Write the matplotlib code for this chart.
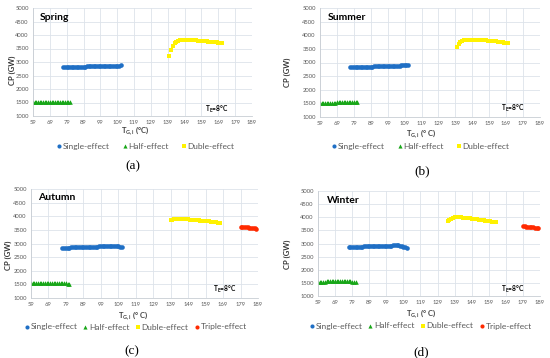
import matplotlib
matplotlib.use("Agg")
import matplotlib.pyplot as plt

# sampled generator temperatures (deg C)
half_x = [59, 60, 61, 62, 63, 64, 65, 66, 67, 68, 69, 70, 71, 72, 73, 74, 75, 76, 77, 78, 79, 80, 81]
single_x = [77, 78, 79, 80, 81, 82, 83, 84, 85, 86, 87, 88, 89, 90, 91, 92, 93, 94,
            95, 96, 97, 98, 99, 100, 101, 102, 103, 104, 105, 106, 107, 108, 109, 110, 111]
triple_x = [179, 180, 181, 182, 183, 184, 185, 186, 187, 188]

spring_double_x = [140, 141, 142, 143, 144, 145, 146, 147, 148, 149, 150, 151, 152, 153, 154, 155,
                   156, 157, 158, 159, 160, 161, 162, 163, 164, 165, 166, 167, 168, 169, 170, 171]
summer_double_x = [140, 141, 142, 143, 144, 145, 146, 147, 148, 149, 150, 151, 152, 153, 154, 155,
                   156, 157, 158, 159, 160, 161, 162, 163, 164, 165, 166, 167, 168, 169, 170]
autumn_double_x = [139, 140, 141, 142, 143, 144, 145, 146, 147, 148, 149, 150, 151, 152, 153,
                   154, 155, 156, 157, 158, 159, 160, 161, 162, 163, 164, 165, 166, 167]
winter_double_x = [135, 136, 137, 138, 139, 140, 141, 142, 143, 144, 145, 146, 147, 148, 149,
                   150, 151, 152, 153, 154, 155, 156, 157, 158, 159, 160, 161, 162, 163]

# CP (GW)
spring_half = [1515, 1516, 1517, 1518, 1519, 1520, 1521, 1522, 1523, 1524, 1525, 1526,
               1527, 1528, 1529, 1530, 1531, 1532, 1533, 1534, 1535, 1536, 1537]
spring_single = [2800, 2803, 2806, 2808, 2811, 2813, 2816, 2818, 2821, 2823, 2825, 2828,
                 2830, 2832, 2834, 2836, 2838, 2840, 2842, 2844, 2846, 2848, 2850, 2852,
                 2853, 2855, 2857, 2859, 2860, 2862, 2864, 2866, 2868, 2870, 2872]
spring_double = [3230, 3450, 3600, 3700, 3750, 3780, 3800, 3810, 3815, 3820, 3820, 3818,
                 3815, 3810, 3806, 3802, 3797, 3792, 3787, 3782, 3776, 3770, 3764, 3758,
                 3752, 3745, 3738, 3731, 3724, 3716, 3708, 3700]

summer_half = [1520, 1521, 1522, 1524, 1525, 1526, 1528, 1529, 1530, 1532, 1533, 1534,
               1535, 1536, 1538, 1539, 1540, 1541, 1542, 1544, 1545, 1546, 1548]
summer_single = [2820, 2823, 2825, 2828, 2830, 2833, 2835, 2838, 2840, 2843, 2845, 2848,
                 2850, 2852, 2855, 2857, 2860, 2862, 2864, 2866, 2869, 2871, 2873, 2876,
                 2878, 2880, 2882, 2885, 2887, 2889, 2891, 2894, 2896, 2899, 2902]
summer_double = [3580, 3690, 3750, 3790, 3810, 3825, 3833, 3838, 3840, 3840, 3838, 3835,
                 3832, 3828, 3824, 3820, 3815, 3810, 3805, 3800, 3794, 3788, 3782, 3776,
                 3770, 3762, 3750, 3740, 3730, 3720, 3710]

autumn_half = [1545, 1546, 1547, 1548, 1548, 1549, 1549, 1550, 1550, 1551, 1551, 1551,
               1552, 1552, 1552, 1552, 1552, 1551, 1550, 1548, 1542, 1528, 1512]
autumn_single = [2840, 2843, 2846, 2849, 2852, 2855, 2857, 2860, 2862, 2865, 2867, 2869,
                 2871, 2873, 2876, 2878, 2880, 2882, 2884, 2886, 2888, 2890, 2892, 2895,
                 2898, 2902, 2906, 2910, 2914, 2915, 2912, 2905, 2892, 2876, 2858]
autumn_double = [3850, 3870, 3885, 3893, 3898, 3900, 3900, 3898, 3895, 3890, 3885, 3880,
                 3874, 3868, 3862, 3856, 3850, 3843, 3836, 3829, 3822, 3815, 3808, 3800,
                 3792, 3784, 3776, 3768, 3760]
autumn_triple = [3620, 3612, 3604, 3596, 3588, 3580, 3572, 3564, 3556, 3548]

winter_half = [1550, 1551, 1551, 1552, 1552, 1553, 1553, 1554, 1554, 1555, 1555, 1556,
               1556, 1557, 1558, 1559, 1560, 1560, 1559, 1556, 1550, 1538, 1522]
winter_single = [2870, 2872, 2874, 2875, 2877, 2878, 2880, 2882, 2884, 2886, 2888, 2890,
                 2892, 2894, 2896, 2898, 2900, 2902, 2904, 2906, 2908, 2910, 2912, 2914,
                 2917, 2920, 2924, 2928, 2930, 2928, 2920, 2900, 2876, 2848, 2822]
winter_double = [3860, 3910, 3950, 3975, 3992, 4003, 4010, 4005, 3998, 3990, 3981, 3972,
                 3963, 3954, 3945, 3936, 3927, 3918, 3909, 3900, 3891, 3881, 3871, 3861,
                 3851, 3841, 3831, 3820, 3805]
winter_triple = [3665, 3656, 3647, 3638, 3629, 3620, 3611, 3602, 3593, 3584]

x_ticks = [59, 69, 79, 89, 99, 109, 119, 129, 139, 149, 159, 169, 179, 189]
y_ticks = [1000, 1500, 2000, 2500, 3000, 3500, 4000, 4500, 5000]

c_single = '#1F6FC5'
c_half = '#17A617'
c_double = '#FFF200'
c_triple = '#FF2A00'

W, H = 550, 358
plt.rcParams['font.family'] = ['Lato', 'DejaVu Sans']

fig = plt.figure(figsize=(W / 100, H / 100), dpi=100)


def fx(px):
    return px / W


def fy(py):
    return 1 - py / H


# name, (left, top, right, bottom) px, series, caption, label spots
panels = [
    ("Spring", (33, 8, 252, 116),
     [spring_single, spring_half, spring_double_x, spring_double, None], "(a)",
     dict(ylab=(12, 70), xlab=(135, 131), leg=(145, 146), cap=(133, 166), te=(161, 1230),
          title=(0.03, 0.915), xl="(°C)")),
    ("Summer", (320, 8, 540, 117),
     [summer_single, summer_half, summer_double_x, summer_double, None], "(b)",
     dict(ylab=(287, 72), xlab=(421, 134), leg=(420, 146), cap=(422, 171), te=(166, 1300),
          title=(0.035, 0.915), xl="(° C)")),
    ("Autumn", (31, 189, 258, 298),
     [autumn_single, autumn_half, autumn_double_x, autumn_double, autumn_triple], "(c)",
     dict(ylab=(8, 255), xlab=(133, 316), leg=(135, 327), cap=(132, 351), te=(163, 1330),
          title=(0.03, 0.92), xl="(° C)")),
    ("Winter", (318, 191, 540, 296),
     [winter_single, winter_half, winter_double_x, winter_double, winter_triple], "(d)",
     dict(ylab=(287, 254), xlab=(421, 314), leg=(420, 326), cap=(421, 352), te=(166, 1260),
          title=(0.04, 0.91), xl="(° C)")),
]

for name, (l, t, r, b), (sy, hy, dx, dy, ty), cap, pos in panels:
    ax = fig.add_axes([fx(l), fy(b), fx(r) - fx(l), fy(t) - fy(b)])
    ax.set_xlim(59, 189)
    ax.set_ylim(1000, 5000)
    ax.set_xticks(x_ticks)
    ax.set_yticks(y_ticks)
    ax.grid(True, color='#DDE3EA', lw=0.6)
    ax.set_axisbelow(True)
    for s in ['top', 'right']:
        ax.spines[s].set_visible(False)
    for s in ['left', 'bottom']:
        ax.spines[s].set_color('#C8CDD3')
        ax.spines[s].set_linewidth(0.6)
    ax.tick_params(length=0, labelsize=4.2, labelcolor='#595959', pad=3)

    ax.plot(single_x, sy, 'o', color=c_single, ms=3.3, mew=0, label='Single-effect')
    ax.plot(half_x, hy, '^', color=c_half, ms=3.3, mew=0, label='Half-effect')
    ax.plot(dx, dy, 's', color=c_double, ms=3.0, mew=0, label='Duble-effect')
    if ty is not None:
        ax.plot(triple_x, ty, 'o', color=c_triple, ms=3.3, mew=0, label='Triple-effect')

    ax.text(pos['title'][0], pos['title'][1], name, transform=ax.transAxes,
            fontsize=7.5, fontweight='bold', va='center', ha='left')
    ax.text(pos['te'][0], pos['te'][1], r'$\mathregular{T_E}$=8°C', fontsize=4.8,
            fontweight='bold', ha='left', va='center')

    fig.text(fx(pos['ylab'][0]), fy(pos['ylab'][1]), 'CP (GW)', rotation=90,
             fontsize=5.5, fontweight='bold', color='#333333', ha='center', va='center')
    fig.text(fx(pos['xlab'][0]), fy(pos['xlab'][1]), r'$\mathregular{T_{G,i}}$ ' + pos['xl'],
             fontsize=5.5, fontweight='bold', color='#404040', ha='center', va='center')

    ncol = 4 if ty is not None else 3
    handles, labels = ax.get_legend_handles_labels()
    leg = ax.legend(handles, labels, loc='center',
                    bbox_to_anchor=(fx(pos['leg'][0]), fy(pos['leg'][1])),
                    bbox_transform=fig.transFigure, ncol=ncol, frameon=False,
                    fontsize=6, handletextpad=0.05, columnspacing=1.4 if ncol == 3 else 0.6,
                    handlelength=0.8, markerscale=0.9, borderpad=0)
    for txt in leg.get_texts():
        txt.set_color('#595959')

    fig.text(fx(pos['cap'][0]), fy(pos['cap'][1]), cap, fontsize=9.5,
             family='Liberation Serif', ha='center', va='center')

fig.savefig('out.png', dpi=100)
